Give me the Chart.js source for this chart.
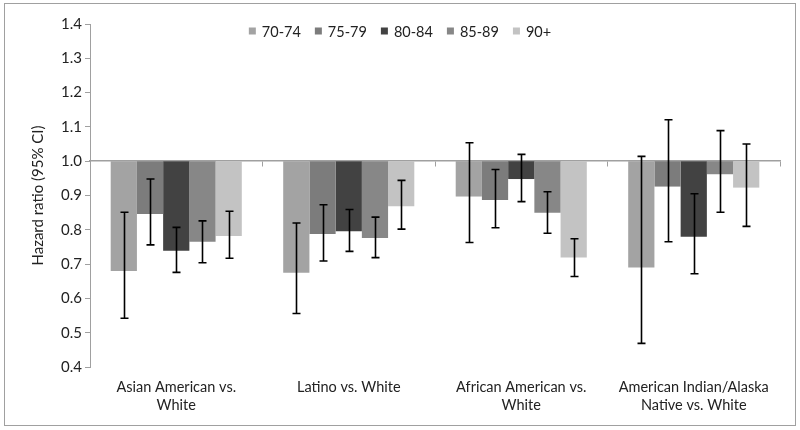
<!DOCTYPE html>
<html>
<head>
<meta charset="utf-8">
<script src="https://cdn.jsdelivr.net/npm/chart.js@4/dist/chart.umd.min.js"></script>
<style>
  body { margin: 0; background: #fff; }
  #wrap { width: 800px; height: 430px; }
</style>
</head>
<body>
<div id="wrap"><canvas id="hr"></canvas></div>
<script>
// groups on the x axis
var groups = [
  ['Asian American vs.', 'White'],
  'Latino vs. White',
  ['African American vs.', 'White'],
  ['American Indian/Alaska', 'Native vs. White']
];
var ageBands = ['70-74', '75-79', '80-84', '85-89', '90+'];
var bandColors = ['#a3a3a3', '#7c7c7c', '#424242', '#878787', '#c3c3c3'];

// hazard ratios per age band (one value per group)
var hr7074 = [0.68, 0.675, 0.897, 0.69];
var hr7579 = [0.846, 0.788, 0.887, 0.926];
var hr8084 = [0.739, 0.796, 0.948, 0.78];
var hr8589 = [0.765, 0.776, 0.85, 0.962];
var hr90 = [0.782, 0.869, 0.719, 0.923];

// 95% CI lower / upper
var lo7074 = [0.542, 0.556, 0.763, 0.469];
var hi7074 = [0.851, 0.82, 1.054, 1.014];
var lo7579 = [0.756, 0.709, 0.806, 0.765];
var hi7579 = [0.948, 0.873, 0.976, 1.121];
var lo8084 = [0.676, 0.737, 0.882, 0.672];
var hi8084 = [0.807, 0.859, 1.02, 0.905];
var lo8589 = [0.704, 0.719, 0.79, 0.851];
var hi8589 = [0.826, 0.837, 0.911, 1.089];
var lo90 = [0.717, 0.802, 0.664, 0.81];
var hi90 = [0.854, 0.944, 0.774, 1.05];

var yTicks = [0.4, 0.5, 0.6, 0.7, 0.8, 0.9, 1.0, 1.1, 1.2, 1.3, 1.4];

var hrs = [hr7074, hr7579, hr8084, hr8589, hr90];
var los = [lo7074, lo7579, lo8084, lo8589, lo90];
var his = [hi7074, hi7579, hi8084, hi8589, hi90];

var datasets = ageBands.map(function(band, i) {
  return {
    label: band,
    // bars float from 1.0 (reference) to the hazard ratio
    data: hrs[i].map(function(v) { return [v, 1]; }),
    backgroundColor: bandColors[i],
    borderWidth: 0,
    lo: los[i],
    hi: his[i],
    xAxisID: 'x'
  };
});

var font = "Lato, 'Open Sans', sans-serif";

var errorBars = {
  id: 'errorBars',
  afterDatasetsDraw: function(chart) {
    var c = chart.ctx, y = chart.scales.y;
    c.save();
    c.strokeStyle = '#000';
    c.lineWidth = 1.6;
    chart.data.datasets.forEach(function(ds, i) {
      chart.getDatasetMeta(i).data.forEach(function(bar, j) {
        var x = Math.round(bar.x) + 0.5;
        var yl = y.getPixelForValue(ds.lo[j]);
        var yh = y.getPixelForValue(ds.hi[j]);
        c.beginPath();
        c.moveTo(x, yl); c.lineTo(x, yh);
        c.moveTo(x - 4, yl); c.lineTo(x + 4, yl);
        c.moveTo(x - 4, yh); c.lineTo(x + 4, yh);
        c.stroke();
      });
    });
    c.restore();
  }
};

// legend sits inside the plot area, above the bars
var topLegend = {
  id: 'topLegend',
  afterDraw: function(chart) {
    var c = chart.ctx;
    var box = 7, gap = 6, space = 14, yMid = 31;
    c.save();
    c.font = '14.5px ' + font;
    c.textBaseline = 'middle';
    var ds = chart.data.datasets;
    var total = 0;
    ds.forEach(function(d, i) {
      total += box + gap + c.measureText(d.label).width + (i < ds.length - 1 ? space : 0);
    });
    var x = chart.width / 2 - total / 2;
    ds.forEach(function(d) {
      c.fillStyle = d.backgroundColor;
      c.fillRect(x, yMid - box / 2, box, box);
      x += box + gap;
      c.fillStyle = '#222';
      c.fillText(d.label, x, yMid + 1);
      x += c.measureText(d.label).width + space;
    });
    c.restore();
  }
};

var frame = {
  id: 'frame',
  afterDraw: function(chart) {
    var c = chart.ctx;
    c.save();
    c.strokeStyle = '#a0a0a0';
    c.lineWidth = 1;
    c.strokeRect(4.5, 3.5, 791, 422);
    c.restore();
  }
};

new Chart(document.getElementById('hr').getContext('2d'), {
  type: 'bar',
  data: { labels: groups, datasets: datasets },
  plugins: [errorBars, topLegend, frame],
  options: {
    responsive: true,
    maintainAspectRatio: false,
    animation: false,
    layout: { padding: { left: 25, right: 20, top: 24, bottom: 8 } },
    datasets: { bar: { categoryPercentage: 0.76, barPercentage: 1.0 } },
    plugins: {
      tooltip: { enabled: false },
      legend: { display: false }
    },
    scales: {
      x: {
        type: 'category',
        position: 'bottom',
        grid: { display: false },
        border: { display: false },
        ticks: { color: '#222', font: { family: font, size: 14.5 }, maxRotation: 0, autoSkip: false, padding: 4 },
        afterFit: function(s) { s.height = 55; }
      },
      x2: {
        type: 'category',
        labels: groups,
        position: { y: 1 },
        offset: true,
        grid: { drawOnChartArea: false, tickLength: 5, color: '#a0a0a0', offset: true },
        border: { color: '#a0a0a0', width: 1.5 },
        ticks: { display: false }
      },
      y: {
        min: 0.4,
        max: 1.4,
        afterBuildTicks: function(s) { s.ticks = yTicks.map(function(v) { return { value: v }; }); },
        grid: { drawOnChartArea: false, tickLength: 5, color: '#a0a0a0' },
        border: { color: '#a0a0a0' },
        ticks: {
          color: '#222',
          font: { family: font, size: 15 },
          callback: function(v) { return v.toFixed(1); }
        },
        title: {
          display: true,
          text: 'Hazard ratio (95% CI)',
          color: '#222',
          font: { family: font, size: 15 }
        },
        afterFit: function(s) { s.width = 65; }
      }
    }
  }
});
</script>
</body>
</html>
